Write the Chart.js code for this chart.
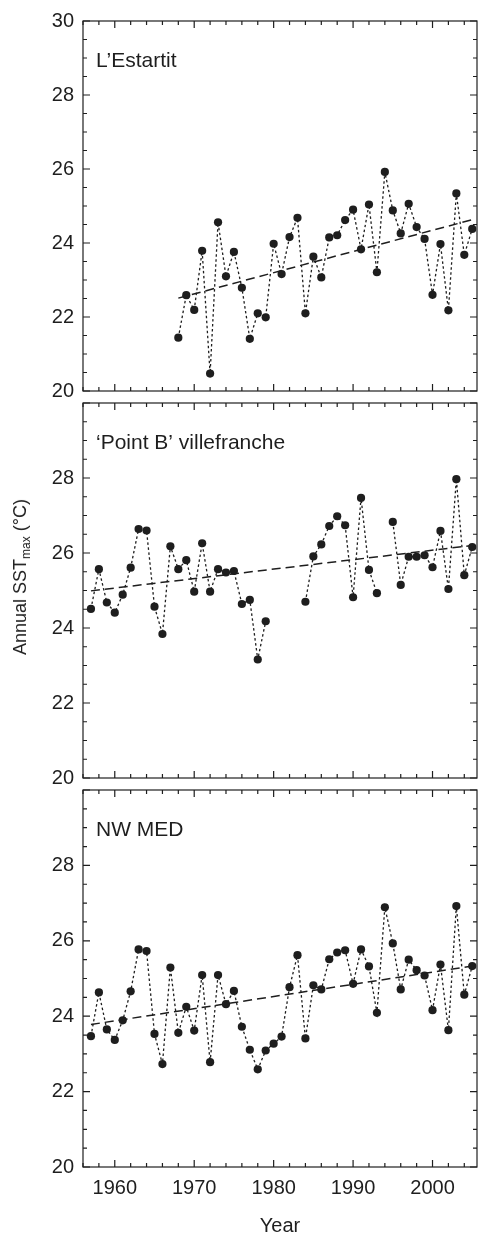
<!DOCTYPE html>
<html>
<head>
<meta charset="utf-8">
<script src="https://cdn.jsdelivr.net/npm/chart.js@4.4.1/dist/chart.umd.min.js"></script>
<style>
  html, body { margin: 0; padding: 0; background: #fff; }
  #wrap { position: relative; width: 478px; height: 1238px; overflow: hidden; font-family: 'Liberation Sans', Arial, sans-serif; }
  #wrap canvas { position: absolute; left: 0; }
  #ytitle {
    position: absolute; left: 20px; top: 577px;
    transform: translate(-50%, -50%) rotate(-90deg);
    white-space: nowrap; font-size: 18px; line-height: 18px; color: #222;
  }
  #ytitle sub { font-size: 12px; line-height: 0; vertical-align: -4px; }
</style>
</head>
<body>
<div id="wrap">
  <canvas id="pA" width="478" height="412" style="top:0px"></canvas>
  <canvas id="pB" width="478" height="417" style="top:382px"></canvas>
  <canvas id="pC" width="478" height="469" style="top:769px"></canvas>
  <div id="ytitle">Annual SST<sub>max</sub> (°C)</div>
</div>
<script>
// ── Annual SST max, three stations ──

const years = [];
for (let y = 1957; y <= 2005; y++) years.push(y);

// L'Estartit starts in 1968
const estartit = [
  null, null, null, null, null, null, null, null, null, null, null,
  21.44, 22.59, 22.19, 23.79, 20.47, 24.56, 23.10, 23.76, 22.79, 21.41,
  22.10, 21.99, 23.98, 23.16, 24.16, 24.68, 22.10, 23.63, 23.07, 24.15,
  24.21, 24.62, 24.90, 23.83, 25.04, 23.21, 25.92, 24.88, 24.26, 25.06,
  24.43, 24.11, 22.60, 23.97, 22.18, 25.34, 23.68, 24.38
];

// 'Point B' villefranche: gaps 1980-83 and 1994
const pointB = [
  24.51, 25.57, 24.68, 24.41, 24.89, 25.61, 26.64, 26.60, 24.57, 23.84,
  26.18, 25.57, 25.81, 24.97, 26.26, 24.97, 25.57, 25.48, 25.52, 24.64,
  24.75, 23.16, 24.18, null, null, null, null, 24.70, 25.91, 26.23,
  26.72, 26.98, 26.74, 24.82, 27.47, 25.55, 24.93, null, 26.83, 25.15,
  25.90, 25.90, 25.94, 25.62, 26.59, 25.04, 27.97, 25.41, 26.16
];

const nwMed = [
  23.47, 24.63, 23.65, 23.37, 23.89, 24.66, 25.77, 25.73, 23.53, 22.73,
  25.29, 23.56, 24.25, 23.62, 25.09, 22.78, 25.09, 24.32, 24.67, 23.72,
  23.11, 22.59, 23.09, 23.27, 23.46, 24.77, 25.62, 23.41, 24.82, 24.71,
  25.51, 25.69, 25.75, 24.86, 25.77, 25.32, 24.09, 26.89, 25.93, 24.71,
  25.50, 25.22, 25.08, 24.16, 25.37, 23.63, 26.92, 24.57, 25.33
];

// Linear trends (end points)
const trendEstartitX = [1968, 2005];
const trendEstartitY = [22.51, 24.63];
const trendPointBX = [1957, 2005];
const trendPointBY = [24.99, 26.20];
const trendNwMedX = [1957, 2005];
const trendNwMedY = [23.78, 25.33];

const xTickValues = [1960, 1970, 1980, 1990, 2000];
const yTickValues = [20, 22, 24, 26, 28, 30];

const INK = '#1e1e1e';
const FONT = "'Liberation Sans', Arial, sans-serif";

// frame, inward ticks on all four sides, and the station name
const framePlugin = {
  id: 'frame',
  afterDraw(chart) {
    const { ctx, chartArea: a, scales } = chart;
    const xs = scales.x, ys = scales.y;
    ctx.save();
    ctx.strokeStyle = INK;
    ctx.lineWidth = 1.2;
    ctx.strokeRect(a.left, a.top, a.right - a.left, a.bottom - a.top);

    ctx.beginPath();
    for (let v = ys.min; v <= ys.max + 1e-6; v += 0.5) {
      const py = ys.getPixelForValue(v);
      const len = (Math.abs(v % 2) < 1e-6) ? 7 : 4;
      ctx.moveTo(a.left, py); ctx.lineTo(a.left + len, py);
      ctx.moveTo(a.right, py); ctx.lineTo(a.right - len, py);
    }
    for (let v = Math.ceil(xs.min / 2) * 2; v <= xs.max; v += 2) {
      const px = xs.getPixelForValue(v);
      const len = (v % 10 === 0) ? 7 : 4;
      ctx.moveTo(px, a.bottom); ctx.lineTo(px, a.bottom - len);
      ctx.moveTo(px, a.top); ctx.lineTo(px, a.top + len);
    }
    ctx.stroke();

    const lbl = chart.options.plugins.frame.label;
    ctx.fillStyle = INK;
    ctx.font = '21px ' + FONT;
    ctx.textBaseline = 'alphabetic';
    ctx.textAlign = 'left';
    ctx.fillText(lbl, a.left + 13, a.top + 46);
    ctx.restore();
  }
};

function toPts(xv, yv) {
  return xv.map((x, i) => ({ x, y: yv[i] }));
}

function makePanel(canvasId, label, values, trendX, trendY, cfg) {
  const canvas = document.getElementById(canvasId);
  return new Chart(canvas, {
    type: 'line',
    data: {
      datasets: [
        {
          data: toPts(years, values),
          borderColor: INK,
          borderWidth: 1.3,
          borderDash: [2.5, 2.5],
          pointRadius: 4.1,
          pointBackgroundColor: INK,
          pointBorderWidth: 0,
          spanGaps: false,
          tension: 0,
          fill: false,
          clip: false,
          order: 0
        },
        {
          data: toPts(trendX, trendY),
          borderColor: INK,
          borderWidth: 1.5,
          borderDash: [9, 5],
          pointRadius: 0,
          tension: 0,
          fill: false,
          order: 1
        }
      ]
    },
    options: {
      responsive: false,
      animation: false,
      layout: { padding: cfg.padding, autoPadding: false },
      plugins: {
        legend: { display: false },
        tooltip: { enabled: false },
        frame: { label }
      },
      scales: {
        x: {
          type: 'linear',
          min: 1956,
          max: 2005.6,
          display: cfg.showX,
          afterBuildTicks: s => { s.ticks = xTickValues.map(v => ({ value: v })); },
          afterFit: s => { if (cfg.showX) s.height = cfg.xHeight; },
          grid: { display: false, drawTicks: false },
          border: { display: false },
          ticks: {
            color: INK,
            padding: 9,
            font: { size: 20, family: FONT },
            callback: v => String(v)
          },
          title: {
            display: cfg.showX,
            text: 'Year',
            color: INK,
            padding: { top: 0, bottom: 0 },
            font: { size: 20, family: FONT }
          }
        },
        y: {
          min: 20,
          max: 30,
          afterBuildTicks: s => { s.ticks = yTickValues.map(v => ({ value: v })); },
          afterFit: s => { s.width = 83; },
          grid: { display: false, drawTicks: false },
          border: { display: false },
          ticks: {
            color: INK,
            padding: 9,
            font: { size: 20, family: FONT },
            callback: v => (v === 30 && !cfg.showTop) ? '' : String(v)
          }
        }
      }
    },
    plugins: [framePlugin]
  });
}

makePanel('pA', 'L\u2019Estartit', estartit, trendEstartitX, trendEstartitY,
  { padding: { top: 15, bottom: 20, left: 0, right: 1 }, showX: false, showTop: true });
makePanel('pB', '\u2018Point B\u2019 villefranche', pointB, trendPointBX, trendPointBY,
  { padding: { top: 20, bottom: 20, left: 0, right: 1 }, showX: false, showTop: false });
makePanel('pC', 'NW MED', nwMed, trendNwMedX, trendNwMedY,
  { padding: { top: 20, bottom: 0, left: 0, right: 1 }, showX: true, xHeight: 71, showTop: false });
</script>
</body>
</html>
